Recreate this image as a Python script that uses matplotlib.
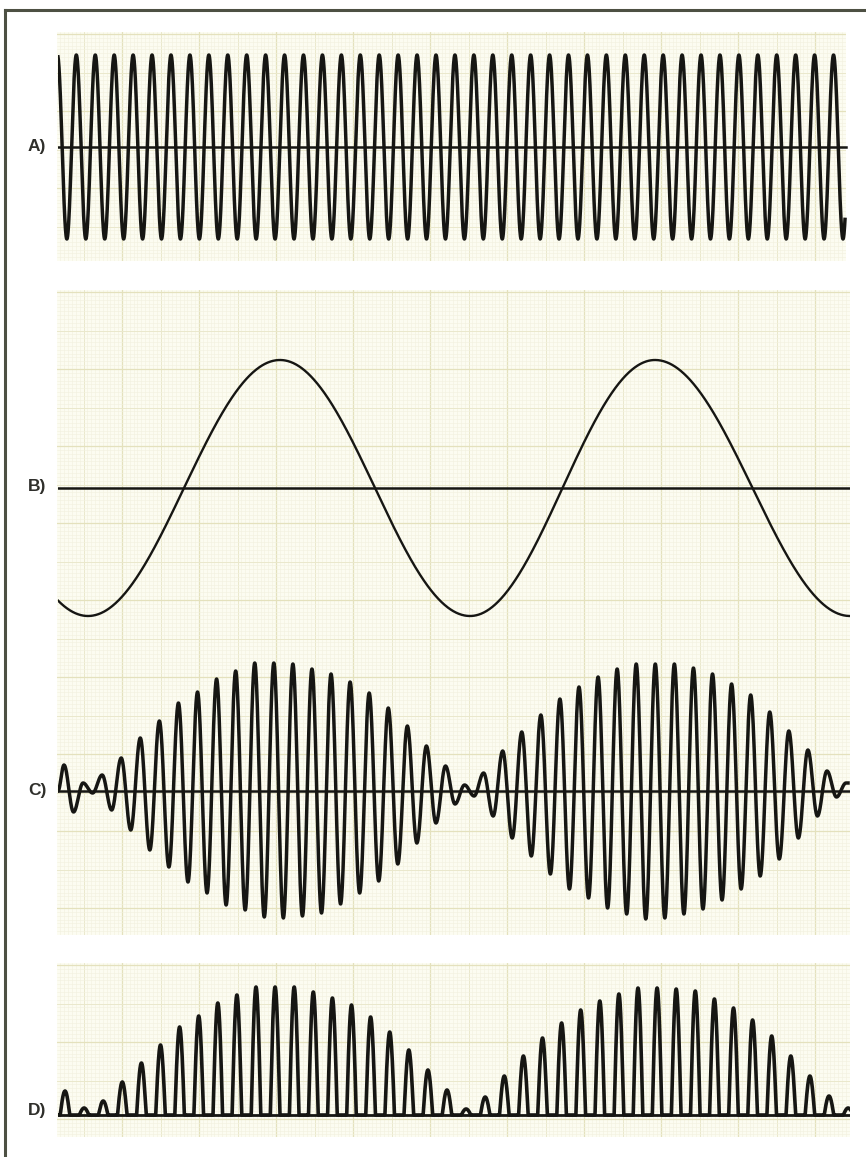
import numpy as np
import matplotlib.pyplot as plt
from matplotlib.lines import Line2D

W, H = 866, 1157

# time axis is in screen samples (0 = left edge of the paper at 58)
T_START, T_END = 58, 850

# A) carrier: first crest time, half period and crest/trough levels (all full scale)
A_first = 57.4
A_half = 9.465
A_extrema = [1.0, -1.0] * 43

# B) modulating tone: times of its crests/troughs and their levels
B_times = [-102, 88, 280, 470, 655, 850]
B_extrema = [1.0, -1.0, 1.0, -1.0, 1.0, -1.0]

# C) modulated carrier: crest/trough levels read off in order (128 = full scale)
C_first = 64.0
C_half = 9.537
C_extrema = [26, -21, 8, -2, 16, -19, 33, -39, 53, -59, 70, -76, 88, -91, 99,
             -102, 112, -114, 120, -119, 128, -126, 128, -127, 127, -125, 122,
             -122, 117, -113, 109, -102, 98, -90, 83, -73, 65, -52, 45, -32, 25,
             -13, 6, -5, 18, -25, 40, -47, 59, -65, 76, -83, 92, -98, 104, -107,
             114, -117, 122, -123, 127, -128, 127, -127, 127, -123, 123, -118,
             117, -109, 107, -98, 96, -85, 79, -68, 60, -47, 41, -25, 20, -6, 8]

# D) detected (half-wave rectified) output: height of each lobe (128 = full scale)
D_first = 65.0
D_period = 19.1
D_peaks = [24, 7, 14, 33, 52, 70, 88, 99, 112, 120, 128, 128, 128, 123, 117,
           110, 98, 83, 65, 45, 25, 6, 18, 39, 59, 77, 92, 105, 114, 121, 127,
           127, 126, 124, 116, 107, 95, 79, 59, 39, 19, 7]

FULL = 128.0
INK = '#161613'
PAPER = '#fcfcf1'


def through_extrema(t, t_ext, v_ext):
    # half-cosine arcs joining successive crests and troughs
    t_ext = np.asarray(t_ext, float)
    v_ext = np.asarray(v_ext, float)
    i = np.clip(np.searchsorted(t_ext, t) - 1, 0, len(t_ext) - 2)
    s = np.clip((t - t_ext[i]) / (t_ext[i + 1] - t_ext[i]), 0, 1)
    return v_ext[i] + (v_ext[i + 1] - v_ext[i]) * (1 - np.cos(np.pi * s)) / 2


fig = plt.figure(figsize=(W / 100, H / 100), dpi=100)
fig.patch.set_facecolor('white')


def px_axes(x0, y0, x1, y1):
    return fig.add_axes([x0 / W, 1 - y1 / H, (x1 - x0) / W, (y1 - y0) / H])


def paper(x0, y0, x1, y1):
    ax = px_axes(x0, y0, x1, y1)
    ax.set_xlim(x0, x1)
    ax.set_ylim(y1, y0)
    fine = 3.85
    for k, x in enumerate(np.arange(45 - fine * 4, x1, fine)):
        if x < x0:
            continue
        if k % 20 == 4:
            c, lw = '#e4e1bd', 0.9
        elif k % 10 == 4:
            c, lw = '#eae8cc', 0.7
        else:
            c, lw = '#f2f1df', 0.4
        ax.axvline(x, color=c, lw=lw, zorder=0)
    for k, y in enumerate(np.arange(y0 + 2, y1, fine)):
        if k % 20 == 0:
            c, lw = '#e4e1bd', 0.9
        elif k % 10 == 0:
            c, lw = '#eae8cc', 0.7
        else:
            c, lw = '#f2f1df', 0.4
        ax.axhline(y, color=c, lw=lw, zorder=0)
    ax.axis('off')
    ax.add_patch(plt.Rectangle((x0, y0), x1 - x0, y1 - y0, facecolor=PAPER,
                               edgecolor='none', zorder=-1))
    return ax


def trace_axes(center, amp, top, bottom):
    ax = px_axes(T_START, top, T_END, bottom)
    ax.set_xlim(T_START, T_END)
    ax.set_ylim((center - bottom) / amp, (center - top) / amp)
    ax.axis('off')
    return ax


# graph paper
paper(57, 32, 846, 261)
paper(57, 290, 850, 935)
paper(57, 963, 850, 1137)

# A) carrier
t = np.linspace(T_START, 845, 4000)
ax = trace_axes(147, 92, 32, 261)
A_times = A_first + A_half * np.arange(len(A_extrema))
ax.axhline(0, xmin=0, xmax=(846 - T_START) / (T_END - T_START), color=INK, lw=1.8)
ax.plot(t, through_extrema(t, A_times, A_extrema), color=INK, lw=2.5)

# B) modulating signal
t = np.linspace(T_START, T_END, 2000)
ax = trace_axes(488, 128, 290, 640)
ax.axhline(0, color=INK, lw=1.8)
ax.plot(t, through_extrema(t, B_times, B_extrema), color=INK, lw=1.7)

# C) modulated carrier
t = np.linspace(T_START, 848, 4000)
ax = trace_axes(791, 128, 640, 935)
C_times = np.concatenate([[T_START], C_first + C_half * np.arange(len(C_extrema))])
C_vals = np.concatenate([[0.0], np.array(C_extrema) / FULL])
ax.axhline(0, color=INK, lw=1.8)
ax.plot(t, through_extrema(t, C_times, C_vals), color=INK, lw=2.5)

# D) detected output
t = np.linspace(T_START, T_END, 4000)
ax = trace_axes(1115, 128, 963, 1137)
D_times = D_first + D_period * np.arange(len(D_peaks))
y = np.zeros_like(t)
for tk, hk in zip(D_times, D_peaks):
    near = np.abs(t - tk) < D_period / 2
    y[near] = hk / FULL * np.clip(np.cos(2 * np.pi * (t[near] - tk) / D_period), 0, None)
ax.axhline(0, color=INK, lw=2.0)
ax.plot(t, y, color=INK, lw=2.6)

# panel labels
for lab, yc in [('A)', 147), ('B)', 487), ('C)', 790), ('D)', 1110)]:
    fig.text(28 / W, 1 - yc / H, lab, ha='left', va='center', fontsize=12.5,
             fontweight='bold', family='Liberation Sans', color='#2f2f2b')

# page frame
fig.add_artist(Line2D([5 / W, 5 / W], [0, 1 - 10 / H], color='#4d5043', lw=2.2))
fig.add_artist(Line2D([5 / W, 1], [1 - 10 / H, 1 - 10 / H], color='#4d5043', lw=2.2))

fig.savefig('out.png', dpi=100, facecolor='white')
